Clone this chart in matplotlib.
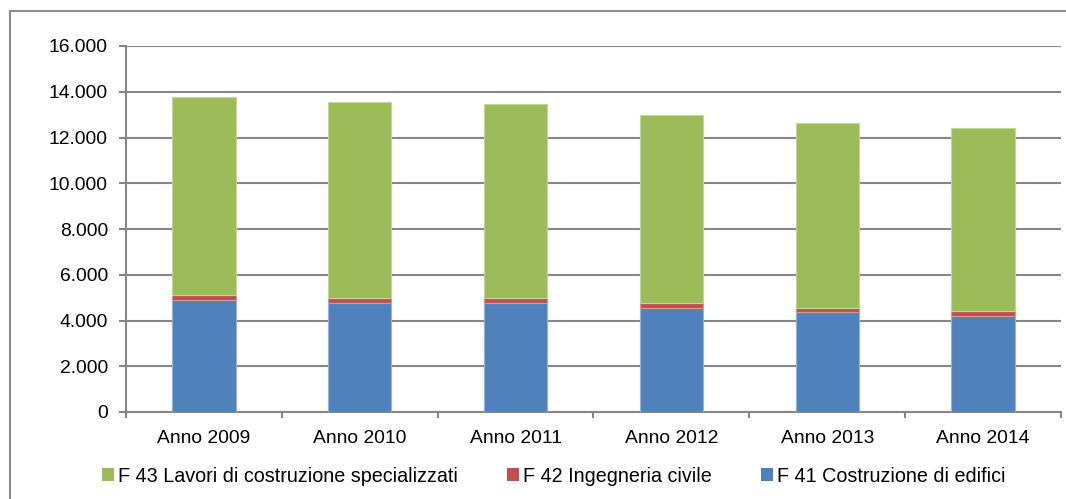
import matplotlib.pyplot as plt
import numpy as np
from matplotlib.patches import Patch
from matplotlib.lines import Line2D
from matplotlib.ticker import FuncFormatter, MultipleLocator

plt.rcParams['font.family'] = ['Liberation Sans', 'DejaVu Sans']

# Data
years = ['Anno 2009', 'Anno 2010', 'Anno 2011', 'Anno 2012', 'Anno 2013', 'Anno 2014']
f41 = [4910, 4780, 4780, 4550, 4350, 4200]
f42 = [200, 190, 190, 220, 200, 200]
f43 = [8640, 8565, 8490, 8215, 8070, 8000]

labels = ['F 41 Costruzione di edifici', 'F 42 Ingegneria civile',
          'F 43 Lavori di costruzione specializzati']
colors = ['#4F81BD', '#C0504D', '#9BBB59']
edges = ['#95B3D7', '#D99694', '#C3D69B']

W, H = 1066, 499
fig = plt.figure(figsize=(W / 100, H / 100), dpi=100)
ax = fig.add_axes([126 / W, 1 - 412 / H, (1061 - 126) / W, (412 - 46) / H])

x = np.arange(len(years))
width = 0.407
bottom = np.zeros(len(years))
for vals, lab, c, e in zip([f41, f42, f43], labels, colors, edges):
    ax.bar(x, vals, width, bottom=bottom, color=c, edgecolor=e,
           linewidth=0.8, label=lab, zorder=3)
    bottom += np.array(vals)

fs = 13.9
grid_c = '#868686'
ax.set_ylim(0, 16000)
ax.set_xlim(-0.5, len(years) - 0.5)
ax.yaxis.set_major_locator(MultipleLocator(2000))
ax.yaxis.set_major_formatter(FuncFormatter(lambda v, p: f'{int(v):,}'.replace(',', '.')))
ax.grid(axis='y', color=grid_c, linewidth=1.5, zorder=0)
ax.set_axisbelow(True)

ax.set_xticks(x)
ax.set_xticklabels(years)
ax.set_xticks(np.arange(len(years) + 1) - 0.5, minor=True)
ax.tick_params(axis='x', which='major', length=0, pad=13, labelsize=fs)
ax.tick_params(axis='x', which='minor', length=4, color=grid_c, width=1.5)
ax.tick_params(axis='y', length=5, color=grid_c, width=1.5, pad=8, labelsize=fs)

for s in ['top', 'right']:
    ax.spines[s].set_visible(False)
for s in ['left', 'bottom']:
    ax.spines[s].set_color(grid_c)
    ax.spines[s].set_linewidth(1.5)

# outer chart frame (left and top edges visible)
fig.add_artist(Line2D([10 / W, 10 / W], [0, 1 - 11 / H], color='#8c8c8c', lw=1.5))
fig.add_artist(Line2D([10 / W, 1], [1 - 11 / H, 1 - 11 / H], color='#8c8c8c', lw=1.5))

lfs = 14.2
handles = [Patch(facecolor=colors[2]), Patch(facecolor=colors[1]), Patch(facecolor=colors[0])]
fig.legend(handles, [labels[2], labels[1], labels[0]], ncol=3, frameon=False,
           loc='center left', bbox_to_anchor=(102 / W, 1 - 476 / H),
           fontsize=lfs, handlelength=0.61, handleheight=0.61, handletextpad=0.2,
           columnspacing=2.49, borderpad=0, borderaxespad=0)

fig.savefig('out.png', dpi=100)
